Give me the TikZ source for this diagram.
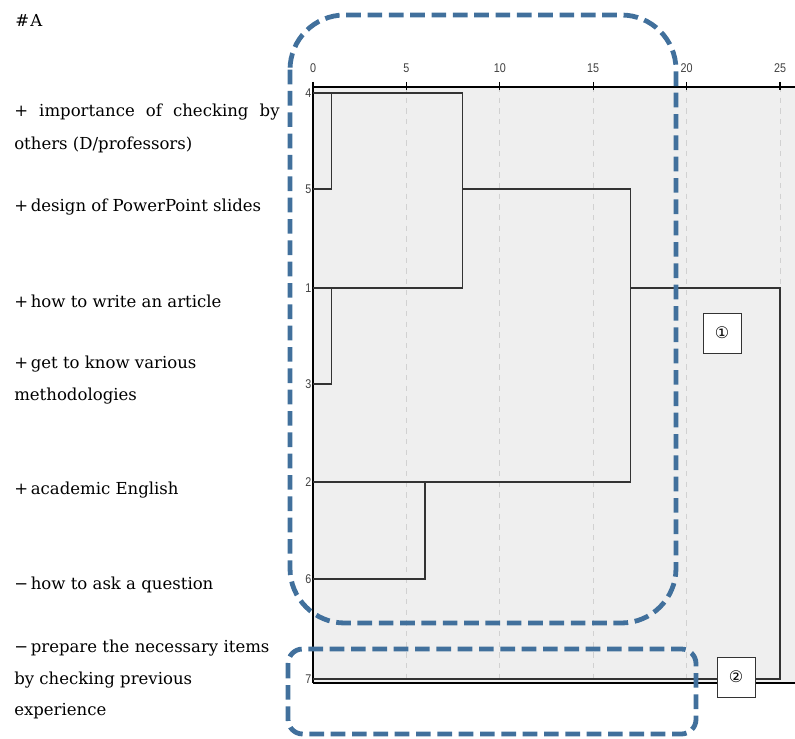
\documentclass[tikz,border=0pt]{standalone}
\usepackage{fontspec}
\setmainfont{DejaVu Serif}
\newfontfamily\axisfont[FakeStretch=0.85]{Liberation Sans}
\newfontfamily\circfont{DejaVu Sans}
\definecolor{groupblue}{HTML}{41709C}
\definecolor{plotgray}{HTML}{EFEFEF}
\tikzset{
  item/.style={anchor=west, inner sep=0pt, font=\fontsize{12.4}{14}\selectfont},
  tree/.style={draw=black!80, line width=1.2pt},
  gridline/.style={draw=black!18, dash pattern=on 4pt off 4pt, line width=0.6pt},
  group/.style={draw=groupblue, line width=3.6pt, dash pattern=on 11pt off 5pt},
  tag/.style={draw=black!80, fill=white, line width=0.6pt, minimum width=28.5pt, minimum height=30pt, font=\circfont\fontsize{12}{12}\selectfont},
  ticklabel/.style={inner sep=1pt, text=black!75, font=\axisfont\fontsize{9.5}{9.5}\selectfont}
}

\begin{document}
\begin{tikzpicture}[x=0.75pt,y=-0.75pt,
    declare function={dx(\v)=313+18.68*\v;}]
  \useasboundingbox (0,0) rectangle (795,738);

  % left column
  \node[item] (title) at (15,20) {\#\kern1pt A};
  \node[item] (t4a) at (14,112) {\makebox[199pt][s]{+ importance of checking by}};
  \node[item] (t4b) at (14,145) {others (D/professors)};
  \node[item] (t5) at (14,207) {+\kern2pt design of PowerPoint slides};
  \node[item] (t1) at (14,301) {+\kern2pt how to write an article};
  \node[item] (t3a) at (14,364) {+\kern2pt get to know various};
  \node[item] (t3b) at (14,396) {methodologies};
  \node[item] (t2) at (14,490) {+\kern2pt academic English};
  \node[item] (t6) at (14,585) {−\kern2pt how to ask a question};
  \node[item] (t7a) at (14,648) {−\kern2pt prepare the necessary items};
  \node[item] (t7b) at (14,680) {by checking previous};
  \node[item] (t7c) at (14,711) {experience};

  % plot area
  \fill[plotgray] (313,87) rectangle (795,683);
  \foreach \v in {5,10,...,25}
    \draw[gridline] ({dx(\v)},87) -- ({dx(\v)},683);
  \foreach \v in {0,5,...,25} {
    \draw[line width=0.8pt] ({dx(\v)},82) -- ({dx(\v)},90);
    \node[ticklabel, anchor=south] (x\v) at ({dx(\v)},74) {\v};
  }
  \draw[line width=1.2pt] (313,87) -- (795,87);
  \draw[line width=1.2pt] (313,683) -- (795,683);
  \draw[line width=1pt] (313,87) -- (313,683);

  % leaves
  \foreach \k/\y in {4/93,5/189,1/288,3/384,2/482,6/579,7/679}
    \node[ticklabel, anchor=east] (n\k) at (313,\y) {\k};

  % dendrogram
  \draw[tree] (313,93) -- ({dx(8)},93) -- ({dx(8)},288) -- (313,288);
  \draw[tree] (313,189) -- ({dx(1)},189) -- ({dx(1)},93);
  \draw[tree] ({dx(1)},288) -- ({dx(1)},384) -- (313,384);
  \draw[tree] ({dx(8)},189) -- ({dx(17)},189) -- ({dx(17)},482) -- (313,482);
  \draw[tree] ({dx(6)},482) -- ({dx(6)},579) -- (313,579);
  \draw[tree] ({dx(17)},288) -- ({dx(25)},288) -- ({dx(25)},679) -- (313,679);

  % groups
  \node[tag] (g1) at (722,333) {①};
  \node[tag] (g2) at (736,677) {②};
  \draw[group, rounded corners=41pt] (290,15) rectangle (676,623);
  \draw[group, rounded corners=11pt] (288,649) rectangle (696,734);
\end{tikzpicture}
\end{document}
